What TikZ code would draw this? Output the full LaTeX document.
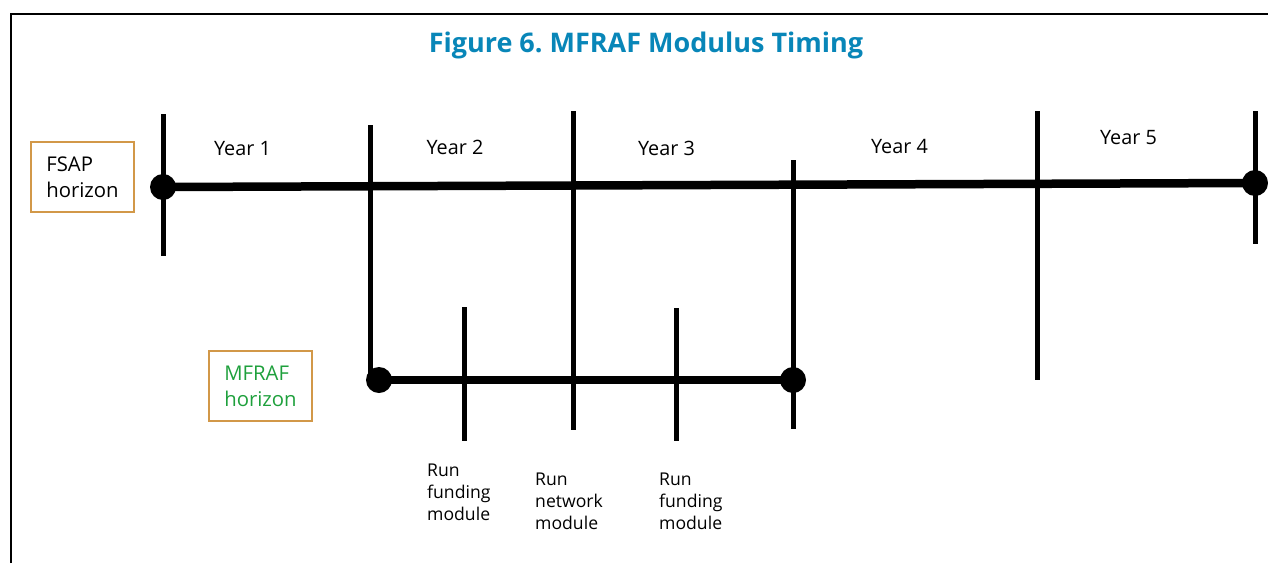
\documentclass[tikz,border=0pt]{standalone}
\usepackage{fontspec}
\setmainfont{Open Sans}
\definecolor{titleblue}{RGB}{8,134,184}
\definecolor{boxorange}{RGB}{210,152,72}
\definecolor{mfgreen}{RGB}{30,160,60}

\begin{document}
\frenchspacing
\begin{tikzpicture}[x=1pt,y=-1pt,
  frame/.style={line width=2pt},
  axis/.style={line width=8.5pt},
  tick/.style={line width=5pt},
  endpoint/.style={circle,fill=black,inner sep=0pt,minimum size=26pt},
  horizonbox/.style={draw=boxorange,line width=2.5pt,minimum width=103pt,
    minimum height=70pt,inner sep=0pt,align=left,
    font=\fontsize{20.3}{26}\selectfont},
  yearlabel/.style={anchor=base,inner sep=0pt,font=\fontsize{19.8}{22}\selectfont},
  runlabel/.style={anchor=north west,inner sep=0pt,align=left,
    font=\fontsize{17.6}{22}\selectfont},
]
\useasboundingbox (0,0) rectangle (1268,563);

% outer frame (top and left edges)
\coordinate (frameBL) at (11,563);
\coordinate (frameTL) at (11,14);
\coordinate (frameTR) at (1268,14);
\draw[frame] (frameBL) -- (frameTL) -- (frameTR);

% title
\node[anchor=base,inner sep=0pt,text=titleblue,
  font=\fontsize{27}{30}\selectfont\bfseries] (title) at (646,52)
  {Figure 6. MFRAF Modulus Timing};

% horizon boxes
\node[horizonbox] (fsap) at (82.5,177) {FSAP\\horizon};
\node[horizonbox,text=mfgreen] (mfraf) at (260.5,386) {MFRAF\\horizon};

% tick marks on the FSAP timeline
\coordinate (t0a) at (163,114);  \coordinate (t0b) at (163,256);
\coordinate (t1a) at (370,125);  \coordinate (t1b) at (370,380);
\coordinate (t2a) at (573,111);  \coordinate (t2b) at (573,430);
\coordinate (t3a) at (793,160);  \coordinate (t3b) at (793,429);
\coordinate (t4a) at (1037,111); \coordinate (t4b) at (1037,380);
\coordinate (t5a) at (1255,111); \coordinate (t5b) at (1255,244);
% tick marks on the MFRAF timeline
\coordinate (m1a) at (464,307);  \coordinate (m1b) at (464,441);
\coordinate (m2a) at (676,308);  \coordinate (m2b) at (676,441);

\foreach \t in {t0,t1,t2,t3,t4,t5,m1,m2}
  \draw[tick] (\t a) -- (\t b);

% timelines with their end points
\node[endpoint] (fsapStart) at (163,187) {};
\node[endpoint] (fsapEnd) at (1255,183) {};
\node[endpoint] (mfrafStart) at (379,380) {};
\node[endpoint] (mfrafEnd) at (793,380) {};
\draw[axis] (fsapStart.center) -- (fsapEnd.center);
\draw[axis] (mfrafStart.center) -- (mfrafEnd.center);

% year labels
\node[yearlabel] (y1) at (242.5,155) {Year 1};
\node[yearlabel] (y2) at (455,154) {Year 2};
\node[yearlabel] (y3) at (666.5,155) {Year 3};
\node[yearlabel] (y4) at (899.5,153) {Year 4};
\node[yearlabel] (y5) at (1128.5,144) {Year 5};

% module runs
\node[runlabel] (run1) at (427,464) {Run\\funding\\module};
\node[runlabel] (run2) at (535,473) {Run\\network\\module};
\node[runlabel] (run3) at (659,473) {Run\\funding\\module};
\end{tikzpicture}
\end{document}
